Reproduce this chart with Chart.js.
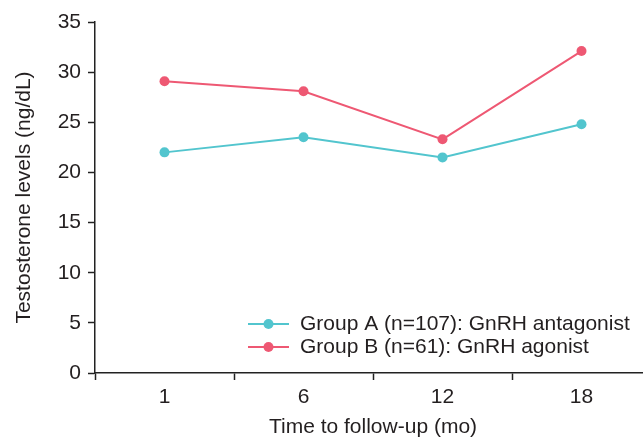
<!DOCTYPE html>
<html>
<head>
<meta charset="utf-8">
<script src="https://cdn.jsdelivr.net/npm/chart.js@4"></script>
<style>
    html, body { margin: 0; padding: 0; overflow: hidden; background: #fff; }
</style>
</head>
<body>
<canvas id="myChart" width="670" height="440"></canvas>
<script>
// values
const months = ['1', '6', '12', '18'];
const group_a = [22.0, 23.5, 21.5, 24.8];
const group_b = [29.1, 28.1, 23.3, 32.1];
const group_labels = ['Group A (n=107): GnRH antagonist', 'Group B (n=61): GnRH agonist'];
const group_colors = ['#52c5ce', '#ee5873'];

const text_color = '#231f20';
const font_family = '"Liberation Sans", Arial, Helvetica, sans-serif';

// legend with a line + dot marker, drawn inside the plot
const line_legend = {
    id: 'line_legend',
    afterDraw(chart, args, opts) {
        const ctx = chart.ctx;
        ctx.save();
        chart.data.datasets.forEach((ds, i) => {
            const y = opts.y + i * opts.rowHeight;
            ctx.strokeStyle = ds.borderColor;
            ctx.fillStyle = ds.borderColor;
            ctx.lineWidth = 2;
            ctx.beginPath();
            ctx.moveTo(opts.x, y);
            ctx.lineTo(opts.x + 41, y);
            ctx.stroke();
            ctx.beginPath();
            ctx.arc(opts.x + 20.5, y, 5, 0, Math.PI * 2);
            ctx.fill();
            ctx.fillStyle = text_color;
            ctx.font = opts.fontSize + 'px ' + font_family;
            ctx.textBaseline = 'middle';
            ctx.textAlign = 'left';
            ctx.fillText(ds.label, opts.x + 52, y);
        });
        ctx.restore();
    }
};

const datasets = [group_a, group_b].map((values, i) => ({
    label: group_labels[i],
    data: values,
    borderColor: group_colors[i],
    backgroundColor: group_colors[i],
    pointBackgroundColor: group_colors[i],
    pointBorderWidth: 0,
    pointRadius: 5,
    borderWidth: 2,
    tension: 0,
    clip: false
}));

const ctx1 = document.getElementById('myChart').getContext('2d');
new Chart(ctx1, {
    type: 'line',
    data: { labels: months, datasets: datasets },
    options: {
        responsive: false,
        animation: false,
        devicePixelRatio: 1,
        layout: { padding: { top: 22, right: 19, bottom: 0, left: 0 } },
        plugins: {
            legend: { display: false },
            tooltip: { enabled: false },
            line_legend: { x: 248, y: 324, rowHeight: 23, fontSize: 21 }
        },
        scales: {
            x: {
                offset: true,
                afterFit: scale => { scale.height = 67; },
                grid: {
                    offset: true,
                    drawOnChartArea: false,
                    drawTicks: true,
                    tickLength: 7,
                    tickWidth: 1.5,
                    tickColor: '#222'
                },
                border: { color: '#222', width: 1.5 },
                ticks: {
                    color: text_color,
                    padding: 5,
                    font: { family: font_family, size: 21 }
                },
                title: {
                    display: true,
                    text: 'Time to follow-up (mo)',
                    color: text_color,
                    padding: { top: 0, bottom: 0 },
                    font: { family: font_family, size: 21 }
                }
            },
            y: {
                min: 0,
                max: 35,
                afterFit: scale => { scale.width = 95; },
                grid: {
                    drawOnChartArea: false,
                    drawTicks: true,
                    tickLength: 7,
                    tickWidth: 1.5,
                    tickColor: '#222'
                },
                border: { color: '#222', width: 1.5 },
                ticks: {
                    stepSize: 5,
                    color: text_color,
                    padding: 7,
                    font: { family: font_family, size: 21 }
                },
                title: {
                    display: true,
                    text: 'Testosterone levels (ng/dL)',
                    color: text_color,
                    padding: { top: 12, bottom: 0 },
                    font: { family: font_family, size: 21 }
                }
            }
        }
    },
    plugins: [line_legend]
});
</script>
</body>
</html>
